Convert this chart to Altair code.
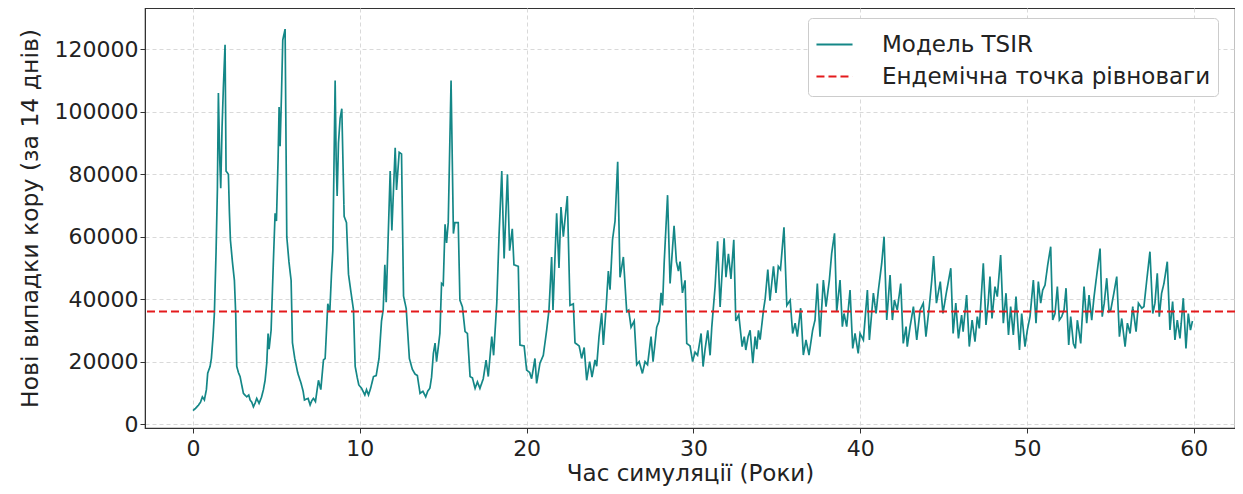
import altair as alt
import pandas as pd

# Simulation time (years) and new measles cases per 14 days
years = [
    0.00, 0.15, 0.32, 0.45, 0.56, 0.68, 0.80, 0.88, 1.02, 1.10, 1.20, 1.28, 1.38, 1.46, 1.52, 1.60, 1.66, 1.74, 1.82, 1.92,
    1.98, 2.12, 2.18, 2.24, 2.36, 2.48, 2.56, 2.62, 2.72, 2.82, 3.02, 3.22, 3.34, 3.42, 3.52, 3.62, 3.72, 3.82, 3.96, 4.10,
    4.22, 4.32, 4.42, 4.50, 4.56, 4.68, 4.82, 4.92, 5.00, 5.10, 5.16, 5.22, 5.30, 5.38, 5.52, 5.62, 5.75, 5.88, 5.96, 6.10,
    6.28, 6.48, 6.60, 6.68, 6.80, 6.90, 7.02, 7.12, 7.22, 7.34, 7.52, 7.66, 7.82, 7.92, 8.08, 8.20, 8.30, 8.38, 8.52, 8.58,
    8.64, 8.72, 8.82, 8.92, 9.06, 9.20, 9.32, 9.50, 9.62, 9.72, 9.84, 9.94, 10.10, 10.30, 10.40, 10.52, 10.65, 10.82, 10.98, 11.15,
    11.30, 11.40, 11.50, 11.58, 11.70, 11.82, 11.92, 12.12, 12.20, 12.36, 12.50, 12.62, 12.78, 12.97, 13.15, 13.31, 13.45, 13.61, 13.78, 13.95,
    14.07, 14.20, 14.30, 14.41, 14.51, 14.60, 14.80, 14.90, 15.00, 15.11, 15.20, 15.30, 15.47, 15.61, 15.70, 15.90, 16.00, 16.15, 16.31, 16.45,
    16.61, 16.75, 16.91, 17.05, 17.20, 17.40, 17.57, 17.70, 17.91, 18.02, 18.21, 18.35, 18.51, 18.65, 18.85, 18.98, 19.14, 19.24, 19.50, 19.60,
    19.85, 20.00, 20.18, 20.30, 20.50, 20.60, 20.80, 21.00, 21.20, 21.34, 21.50, 21.58, 21.80, 21.94, 22.06, 22.20, 22.44, 22.60, 22.80, 22.90,
    23.15, 23.30, 23.45, 23.60, 23.78, 23.92, 24.10, 24.20, 24.34, 24.50, 24.60, 24.75, 24.90, 25.00, 25.15, 25.30, 25.46, 25.60, 25.80, 26.00,
    26.12, 26.26, 26.45, 26.60, 26.75, 26.94, 27.10, 27.25, 27.46, 27.58, 27.80, 27.94, 28.06, 28.15, 28.25, 28.45, 28.60, 28.84, 28.98, 29.10,
    29.20, 29.34, 29.50, 29.60, 29.80, 29.95, 30.10, 30.25, 30.46, 30.58, 30.70, 30.86, 31.00, 31.10, 31.30, 31.45, 31.60, 31.84, 31.95, 32.10,
    32.25, 32.42, 32.54, 32.72, 32.92, 33.05, 33.14, 33.28, 33.40, 33.56, 33.70, 33.80, 33.90, 34.00, 34.20, 34.30, 34.46, 34.59, 34.80, 34.95,
    35.09, 35.22, 35.43, 35.60, 35.80, 35.95, 36.10, 36.23, 36.43, 36.59, 36.75, 36.93, 37.15, 37.29, 37.43, 37.59, 37.79, 37.95, 38.15, 38.29,
    38.46, 38.59, 38.79, 38.93, 39.03, 39.19, 39.39, 39.55, 39.69, 39.88, 39.99, 40.19, 40.43, 40.55, 40.79, 40.95, 41.09, 41.29, 41.43, 41.59,
    41.79, 41.93, 42.05, 42.22, 42.43, 42.58, 42.75, 42.82, 42.99, 43.19, 43.39, 43.59, 43.78, 43.94, 44.14, 44.29, 44.40, 44.57, 44.80, 44.96,
    45.16, 45.43, 45.57, 45.73, 45.89, 46.08, 46.17, 46.38, 46.54, 46.71, 46.88, 47.02, 47.14, 47.38, 47.54, 47.67, 47.78, 47.90, 48.08, 48.22,
    48.42, 48.58, 48.74, 48.89, 49.02, 49.18, 49.34, 49.55, 49.68, 49.88, 50.02, 50.18, 50.38, 50.54, 50.68, 50.82, 50.94, 51.08, 51.24, 51.42,
    51.54, 51.68, 51.82, 51.94, 52.08, 52.22, 52.34, 52.50, 52.62, 52.78, 52.90, 53.02, 53.22, 53.42, 53.58, 53.72, 53.88, 54.02, 54.18, 54.38,
    54.51, 54.63, 54.78, 54.92, 55.02, 55.17, 55.38, 55.54, 55.68, 55.88, 56.02, 56.18, 56.34, 56.54, 56.68, 56.88, 57.01, 57.18, 57.37, 57.54,
    57.67, 57.81, 57.93, 58.07, 58.21, 58.41, 58.57, 58.73, 58.87, 59.01, 59.17, 59.37, 59.53, 59.67, 59.80, 59.92,
]

cases = [
    4300, 5000, 6000, 7000, 8700, 7700, 11000, 16300, 18400, 21000, 28000, 35500, 55000, 75000, 106000, 85000, 75500, 95000, 108000, 121500,
    81000, 80000, 68000, 59000, 52000, 46000, 35000, 18500, 16500, 15200, 9800, 8700, 9300, 7700, 7000, 5500, 6700, 8200, 6600, 8500,
    11000, 14000, 19500, 29000, 24000, 30000, 52500, 67500, 65000, 85000, 101500, 89000, 105000, 123000, 126500, 60000, 52000, 46000, 26000, 21000,
    16300, 13000, 10500, 7700, 8000, 8200, 6100, 7500, 8200, 7200, 14000, 11000, 20500, 21000, 38500, 36000, 48000, 55500, 110000, 85000,
    73000, 90000, 98000, 101000, 66500, 64500, 48000, 41000, 36500, 18500, 15000, 12500, 11500, 9300, 11000, 9300, 11500, 15200, 15500, 21000,
    33000, 36500, 51000, 39000, 60000, 81000, 62000, 88500, 75000, 87000, 86500, 41000, 37000, 21000, 17500, 16000, 15500, 9800, 10500, 8700,
    10500, 11500, 15000, 22600, 25900, 20000, 29000, 45000, 44500, 64000, 58000, 64500, 110000, 61000, 64500, 64500, 39700, 37500, 29600, 29000,
    15200, 14800, 11400, 13500, 11400, 14500, 20500, 15200, 28000, 22000, 38700, 61000, 81000, 53000, 80000, 55500, 62500, 51000, 50500, 25300,
    25000, 17300, 16500, 14500, 21000, 13000, 19500, 22000, 30000, 36500, 53500, 36500, 67500, 50000, 69500, 60000, 73000, 38000, 38500, 26000,
    25000, 21000, 24500, 14000, 20000, 15000, 20500, 18500, 28000, 35500, 25300, 36000, 49000, 43000, 59000, 65000, 84000, 47000, 53500, 36000,
    36500, 31000, 33000, 19000, 20000, 16200, 20000, 19000, 28000, 20000, 31000, 33000, 42000, 38000, 52000, 73300, 45000, 63500, 52000, 49000,
    52000, 42000, 46000, 25800, 25000, 20000, 23000, 22000, 29000, 18400, 24000, 30000, 22000, 31000, 44000, 58500, 37500, 59500, 47000, 54500,
    46500, 59000, 33000, 35000, 24800, 28000, 23700, 28000, 30000, 19500, 28000, 24000, 30000, 27000, 36500, 40000, 49500, 39500, 50500, 42000,
    50500, 49500, 63000, 38000, 39700, 29000, 32300, 28000, 37100, 22100, 26900, 22100, 30100, 33300, 45000, 28000, 46100, 37600, 46100, 54700,
    61100, 36000, 46100, 31200, 35400, 31200, 42900, 24200, 29000, 22600, 29000, 26900, 42900, 26900, 41900, 35400, 42900, 51500, 60000, 33300,
    47700, 33300, 39700, 36500, 45000, 25800, 31200, 24800, 31200, 37600, 26900, 36500, 38700, 28000, 37600, 46100, 53800, 38700, 45600, 35400,
    41900, 49900, 29000, 38700, 27400, 34900, 29600, 41300, 24800, 33300, 26400, 34400, 30600, 51500, 31700, 38700, 47200, 33800, 44000, 40800,
    54100, 32300, 41900, 28500, 37600, 28500, 40800, 23700, 35400, 24800, 30100, 34400, 46100, 32300, 45600, 38700, 42900, 44500, 50900, 56800,
    33300, 35400, 44000, 33300, 34400, 36500, 43500, 25300, 34400, 25800, 24200, 33300, 25800, 44000, 32300, 41300, 33300, 40800, 47700, 56200,
    34400, 38700, 46700, 36000, 36500, 40800, 47200, 28000, 33800, 24800, 32300, 29000, 37600, 29600, 38700, 37100, 37600, 46100, 55200, 35400,
    38700, 48300, 34400, 41900, 45000, 52000, 30100, 39200, 26900, 33300, 27400, 40300, 24200, 35400, 30100, 33000,
]

equilibrium = [36000]
series_names = ["Модель TSIR", "Ендемічна точка рівноваги"]
series_colors = ["#148787", "#e41a1c"]
x_ticks = [0, 10, 20, 30, 40, 50, 60]
y_ticks = [0, 20000, 40000, 60000, 80000, 100000, 120000]

df_line = pd.DataFrame({"t": years, "cases": cases, "series": series_names[0]})
df_eq = pd.DataFrame({"cases": equilibrium, "series": series_names[1]})

FONT = "DejaVu Sans"

color_enc = alt.Color(
    "series:N",
    scale=alt.Scale(domain=series_names, range=series_colors),
    legend=alt.Legend(
        orient="none", legendX=663, legendY=10, title=None,
        labelFont=FONT, labelFontSize=23, labelColor="#222222", labelLimit=0,
        symbolType="stroke", symbolSize=1300, symbolStrokeWidth=2,
        strokeColor="#cccccc", fillColor="white", cornerRadius=4,
        padding=7, rowPadding=0, labelOffset=28,
    ),
)
dash_enc = alt.StrokeDash(
    "series:N",
    scale=alt.Scale(domain=series_names, range=[[1, 0], [8, 4]]),
    legend=None,
)

x_enc = alt.X(
    "t:Q",
    scale=alt.Scale(domain=[-2.88, 62.47], nice=False, zero=False),
    axis=alt.Axis(values=x_ticks, format="d", title="Час симуляції (Роки)",
                  labelPadding=5, titleFontSize=23,
                  titleBaseline="alphabetic", titleY=52),
)
y_scale = alt.Scale(domain=[-1280, 133250], nice=False, zero=False)
y_axis = alt.Axis(values=y_ticks, format="d", title="Нові випадки кору (за 14 днів)",
                  labelPadding=2, titlePadding=12, titleFontSize=23.5)

line = alt.Chart(df_line).mark_line(strokeWidth=1.7, clip=True).encode(
    x=x_enc,
    y=alt.Y("cases:Q", scale=y_scale, axis=y_axis),
    color=color_enc,
    strokeDash=dash_enc,
)

rule = alt.Chart(df_eq).mark_rule(strokeWidth=2).encode(
    y=alt.Y("cases:Q", scale=y_scale),
    color=color_enc,
    strokeDash=dash_enc,
)

chart = (
    alt.layer(line, rule)
    .properties(
        width=1090,
        height=420,
        autosize=alt.AutoSizeParams(type="none"),
        padding={"left": 137, "top": 0, "right": 0, "bottom": 58},
    )
    .configure_view(stroke="#333333", strokeWidth=1.2)
    .configure_axis(
        labelFont=FONT, titleFont=FONT, labelFontSize=22, titleFontSize=23,
        titleFontWeight="normal", labelColor="#222222", titleColor="#222222",
        grid=True, gridColor="#d9d9d9", gridDash=[4, 3], gridWidth=1,
        tickColor="#333333", tickSize=5, domainColor="#333333",
    )
)

chart.save("out.html", embed_options={"renderer": "svg", "actions": False})
